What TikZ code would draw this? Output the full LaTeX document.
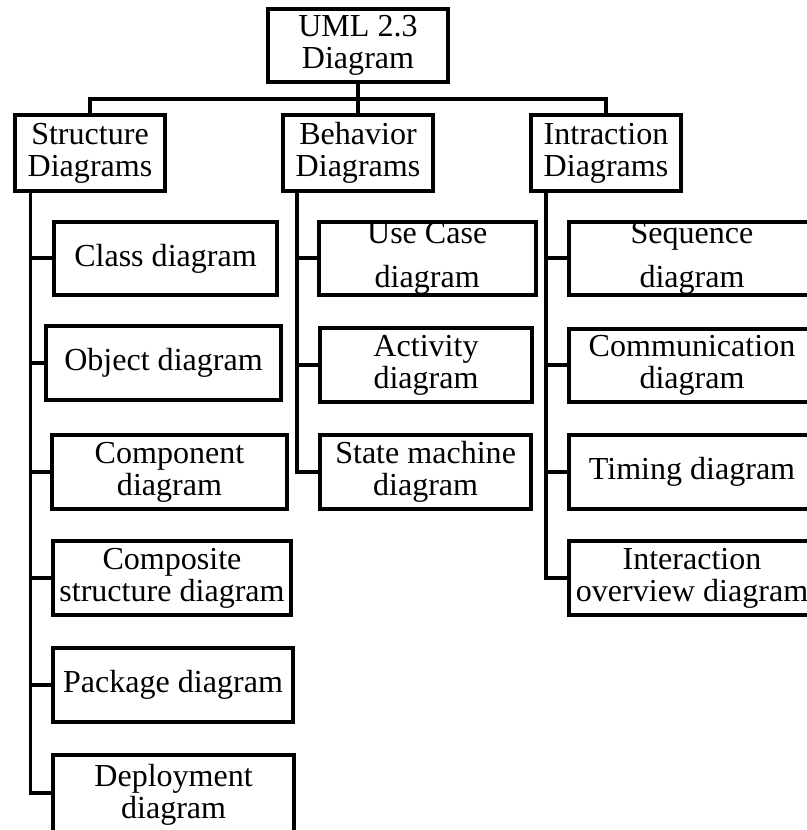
\documentclass[tikz,border=0pt]{standalone}
\usepackage{fontspec}
\setmainfont{Liberation Serif}
\pgfdeclarelayer{edgelayer}
\pgfdeclarelayer{nodelayer}
\pgfsetlayers{edgelayer,nodelayer,main}
\tikzstyle{none} = []
\tikzstyle{box} = [draw, line width=1.42pt, inner sep=0pt, align=center, minimum height=0.92cm, font=\fontsize{11.4}{11.4}\selectfont]
\tikzstyle{wire} = [line width=1.42pt]

\begin{document}
\begin{tikzpicture}[scale=0.5]
	\useasboundingbox (0, 0) rectangle (20.175, 20.75);
	\begin{pgfonlayer}{nodelayer}
		\node [style=box, minimum width=2.24cm] (0) at (8.95, 19.6125) {UML 2.3\\Diagram};
		\node [style=box, minimum width=1.87cm, minimum height=0.94cm] (1) at (2.25, 16.925) {Structure\\Diagrams};
		\node [style=box, minimum width=1.87cm, minimum height=0.94cm] (2) at (8.95, 16.925) {Behavior\\Diagrams};
		\node [style=box, minimum width=1.87cm, minimum height=0.94cm] (3) at (15.15, 16.925) {Intraction\\Diagrams};
		\node [style=box, minimum width=2.79cm] (4) at (4.1375, 14.2875) {Class diagram};
		\node [style=box, minimum width=2.94cm] (5) at (4.0875, 11.675) {Object diagram};
		\node [style=box, minimum width=2.94cm] (6) at (4.2375, 8.95) {Component\\diagram};
		\node [style=box, minimum width=2.975cm] (7) at (4.3, 6.3) {Composite\\structure diagram};
		\node [style=box, minimum width=3cm] (8) at (4.325, 3.625) {Package diagram};
		\node [style=box, minimum width=3.02cm, minimum height=0.98cm] (9) at (4.34, 0.89) {Deployment\\diagram};
		\node [style=box, minimum width=2.71cm] (10) at (10.68, 14.2875) {Use Case\\[4.3pt]diagram};
		\node [style=box, minimum width=2.65cm] (11) at (10.65, 11.625) {Activity\\diagram};
		\node [style=box, minimum width=2.64cm] (12) at (10.64, 8.95) {State machine\\diagram};
		\node [style=box, minimum width=3.08cm] (13) at (17.3, 14.2875) {Sequence\\[4.3pt]diagram};
		\node [style=box, minimum width=3.08cm] (14) at (17.3, 11.6125) {Communication\\diagram};
		\node [style=box, minimum width=3.08cm] (15) at (17.3, 8.95) {Timing diagram};
		\node [style=box, minimum width=3.08cm] (16) at (17.3, 6.3) {Interaction\\overview diagram};
		\node [style=none] (18) at (2.25, 18.275) {};
		\node [style=none] (19) at (15.15, 18.275) {};
		\node [style=none] (20) at (0.7625, 15.99) {};
		\node [style=none] (21) at (0.7625, 14.2875) {};
		\node [style=none] (22) at (0.7625, 11.675) {};
		\node [style=none] (23) at (0.7625, 8.95) {};
		\node [style=none] (24) at (0.7625, 6.3) {};
		\node [style=none] (25) at (0.7625, 3.625) {};
		\node [style=none] (26) at (0.7625, 0.93) {};
		\node [style=none] (27) at (7.425, 15.99) {};
		\node [style=none] (28) at (7.425, 14.2875) {};
		\node [style=none] (29) at (7.425, 11.625) {};
		\node [style=none] (30) at (7.425, 8.95) {};
		\node [style=none] (31) at (13.6375, 15.99) {};
		\node [style=none] (32) at (13.6375, 14.2875) {};
		\node [style=none] (33) at (13.6375, 11.6125) {};
		\node [style=none] (34) at (13.6375, 8.95) {};
		\node [style=none] (35) at (13.6375, 6.3) {};
	\end{pgfonlayer}
	\begin{pgfonlayer}{edgelayer}
		\draw [style=wire] (0.south) to (2.north);
		\draw [style=wire] (1.north) to (18.center) to (19.center) to (3.north);
		\draw [style=wire] (20.center) to (26.center) to (26.center -| 9.west);
		\draw [style=wire] (21.center) to (4.west);
		\draw [style=wire] (22.center) to (5.west);
		\draw [style=wire] (23.center) to (6.west);
		\draw [style=wire] (24.center) to (7.west);
		\draw [style=wire] (25.center) to (8.west);
		\draw [style=wire] (27.center) to (30.center) to (12.west);
		\draw [style=wire] (28.center) to (10.west);
		\draw [style=wire] (29.center) to (11.west);
		\draw [style=wire] (31.center) to (35.center) to (16.west);
		\draw [style=wire] (32.center) to (13.west);
		\draw [style=wire] (33.center) to (14.west);
		\draw [style=wire] (34.center) to (15.west);
	\end{pgfonlayer}
\end{tikzpicture}
\end{document}
